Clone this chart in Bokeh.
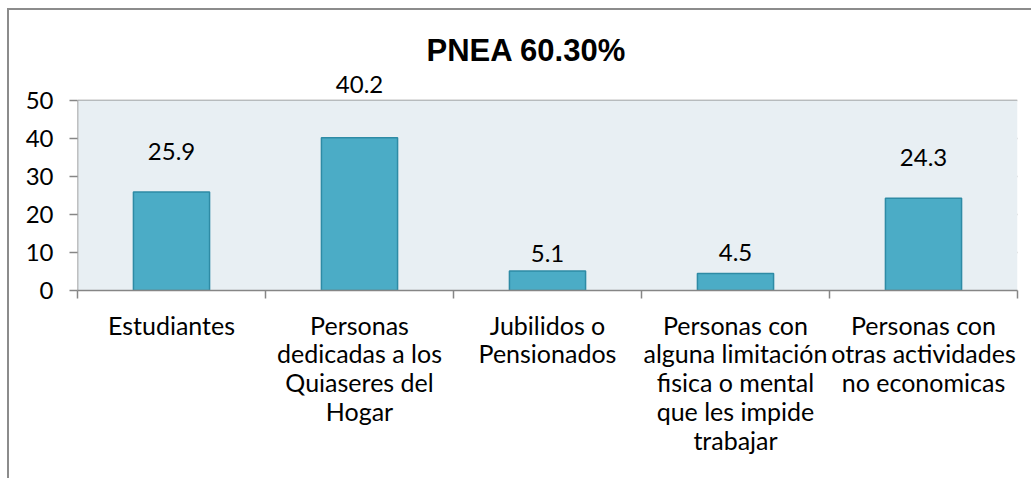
from bokeh.plotting import figure
from bokeh.models import FixedTicker, Range1d, ColumnDataSource, BoxAnnotation
from bokeh.core.properties import value
from bokeh.embed import file_html
from bokeh.resources import INLINE

# ---- data ----
categories = [
    "Estudiantes",
    "Personas\ndedicadas a los\nQuiaseres del\nHogar",
    "Jubilidos o\nPensionados",
    "Personas con\nalguna limitación\nfisica o mental\nque les impide\ntrabajar",
    "Personas con\notras actividades\nno economicas",
]
values = [25.9, 40.2, 5.1, 4.5, 24.3]
value_labels = ["25.9", "40.2", "5.1", "4.5", "24.3"]
y_ticks = [0, 10, 20, 30, 40, 50]
title_text = "PNEA 60.30%"

# layout-only: pixel lift of each data label above its bar
label_lift_px = [41, 53, 18, 21, 41]

FONT = "Lato"
GRAY = "#868686"
BORDER = "#8C8C8C"

n = len(categories)
centers = [i + 0.5 for i in range(n)]
y_top = y_ticks[-1] + 30 / 3.8   # headroom inside the frame for the data labels

p = figure(width=1024, height=470, output_backend="svg", toolbar_location=None,
           x_range=Range1d(0, n), y_range=Range1d(0, y_top),
           min_border_left=68, min_border_right=16, min_border_top=60, min_border_bottom=190,
           title=title_text)
p.margin = (8, 0, 0, 7)
p.styles = {"border-left": f"2px solid {BORDER}", "border-top": f"2px solid {BORDER}"}
p.background_fill_color = "white"
p.border_fill_color = "white"
p.outline_line_color = None

# plot area background (0..50) and its left edge
p.add_layout(BoxAnnotation(left=0, right=n, bottom=0, top=y_ticks[-1],
                           fill_color="#E8EFF3", fill_alpha=1, line_color=None,
                           level="underlay"))
p.segment(x0=[0], y0=[0], x1=[0], y1=[y_ticks[-1]], line_color=GRAY, line_width=1.5)

src = ColumnDataSource(dict(x=centers, top=values, lab=value_labels,
                            yoff=[-v for v in label_lift_px]))
p.vbar(x="x", top="top", bottom=0, width=0.405, source=src,
       fill_color="#4BACC6", line_color="#2E8BA5", line_width=1.5)
p.text(x="x", y="top", text="lab", y_offset="yoff", source=src,
       text_font=value(FONT), text_font_size="24px", text_color="black",
       text_align="center", text_baseline="middle")

# grid
p.xgrid.grid_line_color = None
p.ygrid.ticker = FixedTicker(ticks=y_ticks)
p.ygrid.grid_line_color = GRAY
p.ygrid.grid_line_width = 1.5
p.ygrid.level = "underlay"

# y axis
p.yaxis.ticker = FixedTicker(ticks=y_ticks)
p.yaxis.axis_line_color = None
p.yaxis.major_tick_line_color = GRAY
p.yaxis.major_tick_line_width = 1.5
p.yaxis.major_tick_out = 8
p.yaxis.major_tick_in = 0
p.yaxis.minor_tick_line_color = None
p.yaxis.major_label_standoff = 16
p.yaxis.major_label_text_font = FONT
p.yaxis.major_label_text_font_size = "24px"
p.yaxis.major_label_text_color = "black"

# x axis: labels at centers, tick marks at category boundaries
p.xaxis.ticker = FixedTicker(ticks=centers, minor_ticks=list(range(n + 1)))
p.xaxis.major_label_overrides = {c: lab for c, lab in zip(centers, categories)}
p.xaxis.axis_line_color = GRAY
p.xaxis.axis_line_width = 1.5
p.xaxis.major_tick_line_color = None
p.xaxis.major_tick_out = 0
p.xaxis.major_tick_in = 0
p.xaxis.minor_tick_line_color = GRAY
p.xaxis.minor_tick_line_width = 1.5
p.xaxis.minor_tick_out = 8
p.xaxis.minor_tick_in = 0
p.xaxis.major_label_standoff = 11
p.xaxis.major_label_text_font = FONT
p.xaxis.major_label_text_font_size = "25px"
p.xaxis.major_label_text_color = "black"
p.xaxis.major_label_text_line_height = 0.965

# title
p.title.text_font = "Liberation Sans"
p.title.text_font_style = "bold"
p.title.text_font_size = "31px"
p.title.text_color = "black"
p.title.align = "left"
p.title.offset = 349
p.title.standoff = 6

open("out.html", "w").write(file_html(p, INLINE))
